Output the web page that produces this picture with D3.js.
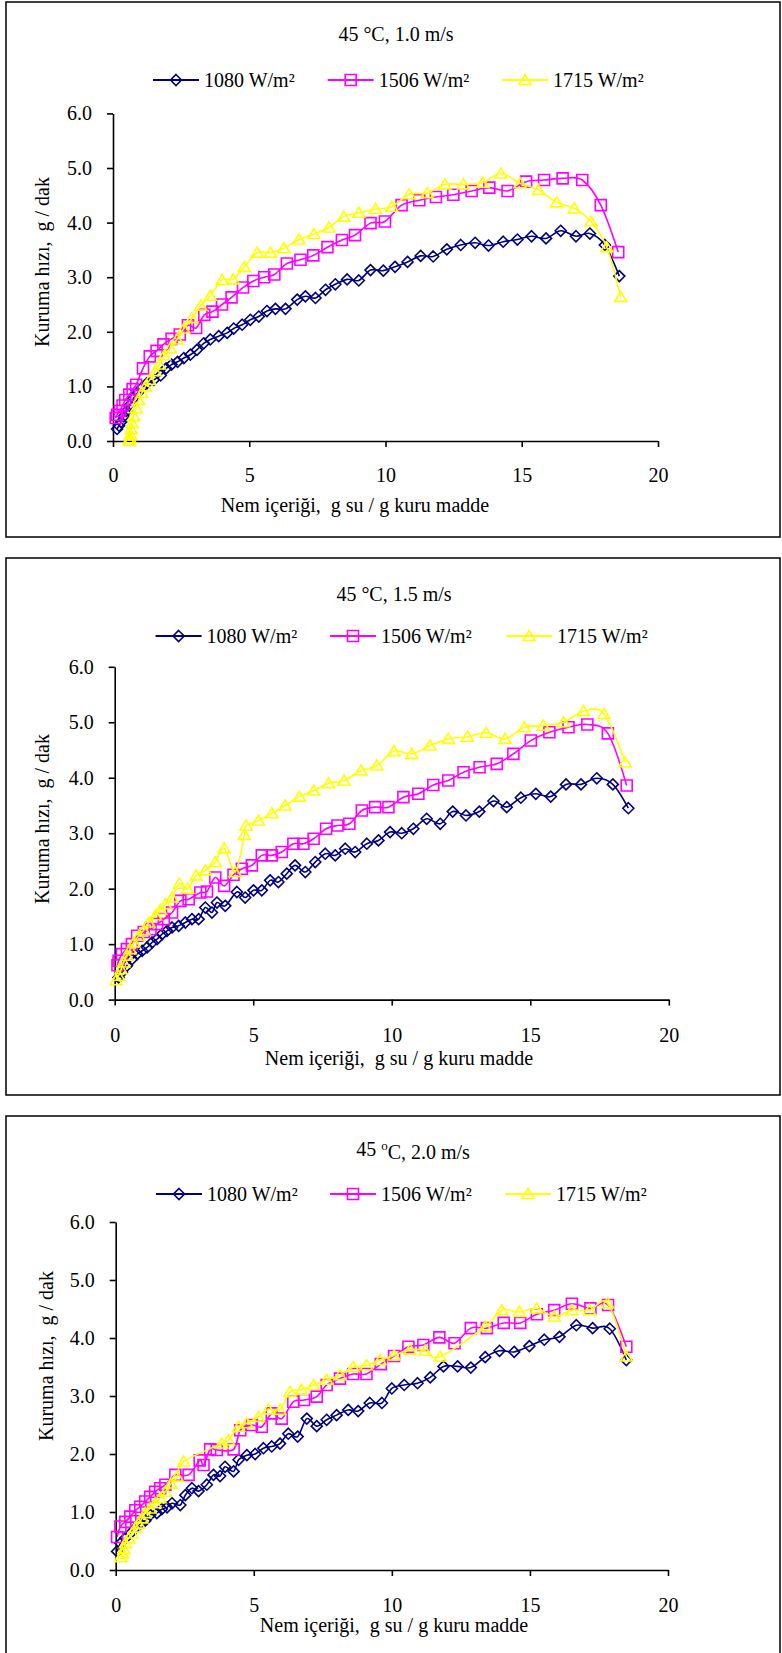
<!DOCTYPE html>
<meta charset="utf-8">
<script src="https://d3js.org/d3.v7.min.js"></script>
<style>
  body { margin: 0; background: #fff; }
  svg text { font-family: "Liberation Serif", "Times New Roman", serif; font-size: 20px; fill: #000; }
</style>
<div id="chart"></div>
<script>

var seriesNames = ["1080 W/m²", "1506 W/m²", "1715 W/m²"];
var seriesColors = ["#000080", "#ff00ff", "#ffff00"];
var xTicks = [0, 5, 10, 15, 20];
var yTicks = [0, 1, 2, 3, 4, 5, 6];

// 45 °C, 1.0 m/s
var p1_1080 = [[0.15,0.22],[0.22,0.28],[0.3,0.35],[0.4,0.45],[0.5,0.55],[0.6,0.65],[0.75,0.78],[0.9,0.88],[1.05,0.97],[1.25,1.06],[1.5,1.12],[1.75,1.2],[1.95,1.33],[2.15,1.4],[2.37,1.45],[2.6,1.52],[2.84,1.58],[3.08,1.67],[3.33,1.79],[3.57,1.86],[3.88,1.92],[4.19,1.98],[4.43,2.06],[4.74,2.13],[5.04,2.22],[5.35,2.28],[5.65,2.38],[5.96,2.42],[6.33,2.42],[6.76,2.59],[7.06,2.65],[7.43,2.62],[7.8,2.77],[8.16,2.87],[8.59,2.96],[9.02,2.94],[9.45,3.13],[9.92,3.12],[10.35,3.19],[10.81,3.28],[11.29,3.39],[11.75,3.38],[12.25,3.51],[12.76,3.59],[13.29,3.63],[13.78,3.58],[14.32,3.65],[14.84,3.69],[15.36,3.75],[15.89,3.71],[16.43,3.85],[16.99,3.75],[17.5,3.8],[18.05,3.59],[18.58,3.02]];
var p1_1506 = [[0.1,0.42],[0.15,0.48],[0.25,0.55],[0.35,0.65],[0.45,0.75],[0.6,0.85],[0.72,0.95],[0.85,1.03],[1.1,1.33],[1.35,1.55],[1.6,1.65],[1.85,1.77],[2.15,1.87],[2.45,1.95],[2.75,2.12],[3.05,2.07],[3.35,2.31],[3.65,2.37],[4.0,2.5],[4.35,2.63],[4.77,2.81],[5.15,2.93],[5.55,3.0],[5.92,3.05],[6.38,3.25],[6.88,3.32],[7.35,3.4],[7.87,3.55],[8.4,3.68],[8.88,3.77],[9.45,3.99],[9.98,4.02],[10.59,4.32],[11.24,4.41],[11.85,4.47],[12.49,4.51],[13.16,4.58],[13.81,4.64],[14.48,4.58],[15.16,4.75],[15.82,4.78],[16.5,4.81],[17.22,4.78],[17.9,4.32],[18.54,3.46]];
var p1_1715 = [[0.6,0.0],[0.62,0.05],[0.64,0.12],[0.67,0.22],[0.7,0.33],[0.76,0.46],[0.85,0.6],[0.94,0.75],[1.06,0.88],[1.19,1.0],[1.35,1.12],[1.55,1.28],[1.7,1.4],[1.88,1.57],[2.1,1.7],[2.35,1.86],[2.6,2.06],[2.9,2.25],[3.22,2.48],[3.57,2.66],[4.0,2.95],[4.41,2.96],[4.82,3.19],[5.29,3.45],[5.78,3.45],[6.27,3.53],[6.82,3.69],[7.37,3.79],[7.92,3.91],[8.47,4.11],[9.02,4.18],[9.63,4.25],[10.23,4.29],[10.87,4.52],[11.53,4.54],[12.18,4.7],[12.86,4.7],[13.57,4.73],[14.24,4.9],[14.94,4.72],[15.61,4.6],[16.28,4.37],[16.93,4.26],[17.54,4.02],[18.12,3.55],[18.63,2.64]];

// 45 °C, 1.5 m/s
var p2_1080 = [[0.14,0.4],[0.26,0.49],[0.44,0.61],[0.63,0.73],[0.81,0.82],[0.99,0.88],[1.17,0.94],[1.35,1.03],[1.53,1.09],[1.71,1.18],[1.89,1.24],[2.07,1.3],[2.31,1.33],[2.55,1.39],[2.79,1.45],[3.03,1.45],[3.27,1.66],[3.51,1.57],[3.69,1.75],[3.99,1.69],[4.41,1.94],[4.71,1.84],[5.01,1.97],[5.31,1.97],[5.61,2.15],[5.91,2.12],[6.21,2.27],[6.51,2.42],[6.88,2.3],[7.24,2.48],[7.6,2.63],[7.96,2.6],[8.32,2.72],[8.68,2.66],[9.1,2.81],[9.52,2.87],[9.94,3.02],[10.36,3.0],[10.78,3.08],[11.26,3.26],[11.75,3.17],[12.2,3.39],[12.68,3.32],[13.16,3.39],[13.67,3.58],[14.15,3.47],[14.66,3.64],[15.2,3.71],[15.74,3.66],[16.29,3.88],[16.83,3.88],[17.4,3.99],[17.98,3.88],[18.54,3.45]];
var p2_1506 = [[0.1,0.62],[0.14,0.7],[0.26,0.82],[0.44,0.91],[0.62,1.0],[0.81,1.15],[1.05,1.22],[1.29,1.27],[1.53,1.36],[1.77,1.45],[2.07,1.57],[2.37,1.78],[2.67,1.81],[3.09,1.93],[3.33,1.95],[3.63,2.2],[3.95,2.05],[4.29,2.25],[4.59,2.36],[4.95,2.42],[5.31,2.6],[5.67,2.6],[6.03,2.66],[6.45,2.81],[6.81,2.81],[7.18,2.9],[7.63,3.08],[8.04,3.14],[8.47,3.17],[8.92,3.41],[9.4,3.47],[9.88,3.47],[10.42,3.65],[10.96,3.71],[11.5,3.87],[12.04,3.95],[12.59,4.1],[13.17,4.19],[13.79,4.25],[14.39,4.43],[15.02,4.67],[15.69,4.82],[16.38,4.91],[17.06,4.96],[17.8,4.8],[18.48,3.86]];
var p2_1715 = [[0.05,0.35],[0.14,0.43],[0.23,0.55],[0.32,0.67],[0.44,0.79],[0.56,0.91],[0.69,1.03],[0.87,1.15],[1.05,1.25],[1.23,1.39],[1.47,1.52],[1.65,1.62],[1.83,1.72],[2.07,1.84],[2.33,2.09],[2.63,2.0],[2.94,2.24],[3.27,2.33],[3.63,2.48],[3.95,2.73],[4.35,2.3],[4.68,2.97],[4.74,3.14],[5.19,3.23],[5.67,3.36],[6.15,3.5],[6.67,3.66],[7.18,3.77],[7.72,3.9],[8.28,3.95],[8.89,4.13],[9.46,4.22],[10.08,4.48],[10.72,4.43],[11.38,4.58],[12.04,4.7],[12.73,4.74],[13.41,4.81],[14.09,4.7],[14.78,4.91],[15.47,4.94],[16.2,5.0],[16.92,5.2],[17.66,5.15],[18.42,4.28]];

// 45 oC, 2.0 m/s
var p3_1080 = [[0.05,0.32],[0.17,0.46],[0.35,0.55],[0.53,0.63],[0.71,0.72],[0.89,0.8],[1.07,0.85],[1.25,0.95],[1.49,0.98],[1.67,1.05],[1.86,1.08],[2.04,1.15],[2.34,1.12],[2.52,1.29],[2.76,1.41],[3.0,1.36],[3.3,1.47],[3.54,1.64],[3.78,1.62],[3.96,1.78],[4.27,1.7],[4.45,1.9],[4.75,1.98],[5.05,2.0],[5.35,2.1],[5.65,2.13],[5.95,2.18],[6.25,2.35],[6.59,2.3],[6.92,2.61],[7.28,2.48],[7.64,2.59],[8.0,2.67],[8.42,2.76],[8.78,2.74],[9.2,2.88],[9.64,2.88],[10.0,3.13],[10.45,3.19],[10.93,3.22],[11.39,3.32],[11.87,3.51],[12.38,3.51],[12.86,3.49],[13.38,3.67],[13.9,3.78],[14.43,3.76],[14.98,3.86],[15.52,3.97],[16.07,4.02],[16.68,4.22],[17.27,4.17],[17.89,4.16],[18.49,3.62]];
var p3_1506 = [[0.05,0.57],[0.17,0.75],[0.35,0.83],[0.53,0.92],[0.71,1.03],[0.89,1.09],[1.07,1.18],[1.25,1.26],[1.43,1.35],[1.61,1.41],[1.8,1.47],[2.16,1.64],[2.64,1.64],[3.04,1.89],[3.18,1.81],[3.42,2.08],[3.66,2.07],[4.27,2.08],[4.51,2.41],[4.93,2.5],[5.29,2.47],[5.65,2.7],[6.01,2.61],[6.43,2.9],[6.82,2.93],[7.28,2.99],[7.64,3.19],[8.12,3.3],[8.6,3.38],[9.08,3.38],[9.6,3.55],[10.08,3.69],[10.6,3.85],[11.14,3.88],[11.72,4.01],[12.27,3.91],[12.86,4.17],[13.44,4.17],[14.05,4.26],[14.65,4.26],[15.25,4.41],[15.88,4.48],[16.52,4.59],[17.19,4.51],[17.83,4.57],[18.49,3.85]];
var p3_1715 = [[0.19,0.22],[0.25,0.28],[0.3,0.36],[0.35,0.46],[0.47,0.55],[0.59,0.63],[0.71,0.73],[0.83,0.8],[0.95,0.89],[1.07,0.98],[1.25,1.06],[1.43,1.15],[1.61,1.24],[1.8,1.35],[2.0,1.49],[2.22,1.61],[2.46,1.87],[3.84,2.18],[4.08,2.24],[4.45,2.47],[4.75,2.53],[5.17,2.64],[5.53,2.77],[5.95,2.76],[6.31,3.07],[6.73,3.11],[7.16,3.19],[7.64,3.28],[8.12,3.36],[8.6,3.5],[9.08,3.53],[9.57,3.62],[10.08,3.7],[10.66,3.8],[11.2,3.78],[11.75,3.68],[13.39,4.2],[13.98,4.48],[14.62,4.45],[15.25,4.51],[15.88,4.37],[16.52,4.48],[17.16,4.48],[17.81,4.6],[18.49,3.68]];

var panels = [
  {title: ["45 °C, 1.0 m/s"], data: [p1_1080, p1_1506, p1_1715],
   top: 2, bottom: 537, x0: 113, x1: 658, y0: 441, y1: 113.4,
   titleX: 396, titleY: 34, legY: 80, legX: [153, 327.7, 502],
   xLabY: 475, xTitleX: 355, xTitleY: 505, yTitleX: 42, yTitleY: 262},
  {title: ["45 °C, 1.5 m/s"], data: [p2_1080, p2_1506, p2_1715],
   top: 558, bottom: 1095, x0: 114.7, x1: 668.8, y0: 999.6, y1: 666.8,
   titleX: 394, titleY: 594, legY: 636, legX: [155.6, 330, 506],
   xLabY: 1035, xTitleX: 399, xTitleY: 1058, yTitleX: 42, yTitleY: 819},
  {title: ["45 ", "o", "C, 2.0 m/s"], data: [p3_1080, p3_1506, p3_1715],
   top: 1116, bottom: 1680, x0: 115.7, x1: 668, y0: 1570, y1: 1222,
   titleX: 413, titleY: 1149, legY: 1194, legX: [156, 330, 505],
   xLabY: 1605, xTitleX: 394, xTitleY: 1625, yTitleX: 46, yTitleY: 1356}
];

var markerPaths = [
  "M0,-5.5L5.5,0L0,5.5L-5.5,0Z",
  "M-5.5,-5.5H5.5V5.5H-5.5Z",
  "M0,-5.5L6,4.5H-6Z"
];

var svg = d3.select("#chart")
  .append("svg")
    .attr("width", 782)
    .attr("height", 1653);

panels.forEach(function(p) {
  var g = svg.append("g");

  g.append("rect")
    .attr("x", 6).attr("y", p.top)
    .attr("width", 774).attr("height", p.bottom - p.top)
    .attr("fill", "none").attr("stroke", "#000").attr("stroke-width", 1.5);

  var x = d3.scaleLinear().domain([0, 20]).range([p.x0, p.x1]);
  var y = d3.scaleLinear().domain([0, 6]).range([p.y0, p.y1]);

  // title
  var t = g.append("text")
    .attr("x", p.titleX).attr("y", p.titleY).attr("dy", "0.35em")
    .attr("text-anchor", "middle");
  if (p.title.length == 1) {
    t.text(p.title[0]);
  } else {
    t.append("tspan").text(p.title[0]);
    t.append("tspan").attr("dy", "-0.45em").style("font-size", "13px").text(p.title[1]);
    t.append("tspan").attr("dy", "0.45em").text(p.title[2]);
  }

  // legend
  p.legX.forEach(function(lx, i) {
    g.append("line")
      .attr("x1", lx).attr("x2", lx + 46)
      .attr("y1", p.legY).attr("y2", p.legY)
      .attr("stroke", seriesColors[i]).attr("stroke-width", 1.8);
    g.append("path")
      .attr("d", markerPaths[i])
      .attr("transform", "translate(" + (lx + 23) + "," + p.legY + ")")
      .attr("fill", "none").attr("stroke", seriesColors[i]).attr("stroke-width", 1.6);
    g.append("text")
      .attr("x", lx + 51).attr("y", p.legY).attr("dy", "0.35em")
      .text(seriesNames[i]);
  });

  // axes
  var xAxis = g.append("g")
    .attr("transform", "translate(0," + p.y0 + ")")
    .call(d3.axisBottom(x).tickValues(xTicks).tickSize(6).tickSizeOuter(0)
      .tickPadding(p.xLabY - p.y0 - 13.5));
  var yAxis = g.append("g")
    .attr("transform", "translate(" + p.x0 + ",0)")
    .call(d3.axisLeft(y).tickValues(yTicks).tickSize(6).tickSizeOuter(0)
      .tickPadding(15).tickFormat(d3.format(".1f")));
  [xAxis, yAxis].forEach(function(a) {
    a.selectAll("path, line").attr("stroke", "#000").attr("stroke-width", 1.6);
  });

  // series
  p.data.forEach(function(d, i) {
    var line = d3.line()
      .x(function(v) { return x(v[0]); })
      .y(function(v) { return y(v[1]); })
      .curve(d3.curveCatmullRom.alpha(0));
    g.append("path")
      .datum(d)
      .attr("d", line)
      .attr("fill", "none")
      .attr("stroke", seriesColors[i])
      .attr("stroke-width", 1.6);
    g.append("g").selectAll("path")
      .data(d)
      .enter()
      .append("path")
        .attr("d", markerPaths[i])
        .attr("transform", function(v) { return "translate(" + x(v[0]) + "," + y(v[1]) + ")"; })
        .attr("fill", "none")
        .attr("stroke", seriesColors[i])
        .attr("stroke-width", 1.6);
  });

  // axis titles
  g.append("text")
    .attr("x", p.xTitleX).attr("y", p.xTitleY).attr("dy", "0.35em")
    .attr("text-anchor", "middle")
    .text("Nem içeriği,  g su / g kuru madde")
    .style("white-space", "pre");
  g.append("text")
    .attr("transform", "translate(" + p.yTitleX + "," + p.yTitleY + ") rotate(-90)")
    .attr("dy", "0.35em")
    .attr("text-anchor", "middle")
    .text("Kuruma hızı,  g / dak")
    .style("white-space", "pre");
});

</script>
